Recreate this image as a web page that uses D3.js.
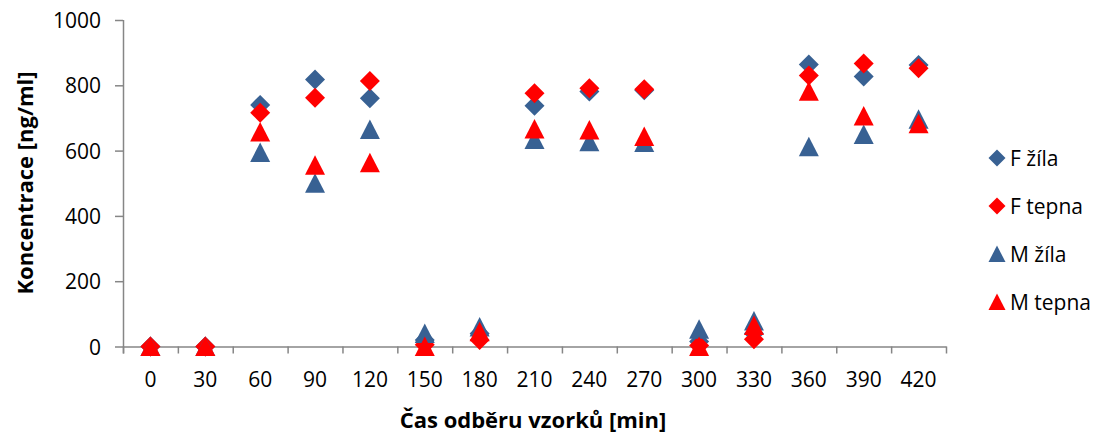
<!DOCTYPE html>
<html>
<head>
<meta charset="utf-8">
<script src="https://cdn.jsdelivr.net/npm/d3@7"></script>
<style>
  body { margin: 0; background: #fff; }
  text { font-family: "Open Sans", sans-serif; fill: #000; }
</style>
</head>
<body>
<div id="container"></div>
<script>
/* CONSTANTS AND GLOBALS */
const width = 1111;
const height = 436;
const margin = {top: 20, bottom: 90, left: 123, right: 165};

/* DATA */
const times = ["0","30","60","90","120","150","180","210","240","270","300","330","360","390","420"];
const fZila  = [0, 0, 740, 818, 760, 20, 40, 737, 781, 785, 15, 40, 864, 827, 862];
const fTepna = [0, 0, 716, 762, 813, 5, 20, 776, 791, 788, 3, 22, 830, 867, 852];
const mZila  = [0, 0, 594, 500, 665, 40, 60, 634, 627, 625, 53, 78, 612, 649, 696];
const mTepna = [0, 0, 657, 555, 563, 0, 45, 666, 663, 643, 0, 64, 782, 706, 682];
const yTicks = [0, 200, 400, 600, 800, 1000];

const blue = "#386193";
const red = "#ff0000";

// custom marker shapes (Excel style)
const diamond = {draw(ctx, size) {
  const r = Math.sqrt(size) / 2;
  ctx.moveTo(0, -r); ctx.lineTo(r, 0); ctx.lineTo(0, r); ctx.lineTo(-r, 0); ctx.closePath();
}};
const triangle = {draw(ctx, size) {
  const r = Math.sqrt(size) / 2;
  ctx.moveTo(0, -r); ctx.lineTo(r, r * 0.95); ctx.lineTo(-r, r * 0.95); ctx.closePath();
}};

const series = [
  {name: "F žíla", values: fZila, color: blue, shape: diamond},
  {name: "F tepna", values: fTepna, color: red, shape: diamond},
  {name: "M žíla", values: mZila, color: blue, shape: triangle},
  {name: "M tepna", values: mTepna, color: red, shape: triangle}
];

const svg = d3.select("#container")
  .append("svg")
  .attr("width", width)
  .attr("height", height);

/* SCALES */
const plotRight = 946;
const xScale = d3.scaleBand()
  .domain(times)
  .range([margin.left, plotRight])
  .padding(0);

const xIdx = d3.scaleLinear()
  .domain([0, times.length])
  .range([margin.left, plotRight]);

const yScale = d3.scaleLinear()
  .domain([0, 1000])
  .range([346.5, margin.top]);

/* AXES */
const yAxisGroup = svg.append("g")
  .attr("transform", `translate(${margin.left},0)`)
  .call(d3.axisLeft(yScale).tickValues(yTicks).tickFormat(d3.format("d"))
    .tickSize(8).tickPadding(14).tickSizeOuter(0));
yAxisGroup.select(".domain").attr("stroke", "#868686").attr("stroke-width", 1.5)
  .attr("d", `M0.5,${yScale(1000)}V${yScale(0) + 7}`);
yAxisGroup.selectAll(".tick line").attr("stroke", "#868686").attr("stroke-width", 1.5);
yAxisGroup.selectAll(".tick text").style("font-size", "21px").attr("dy", "0.36em");

// x tick marks at band edges
const xTickGroup = svg.append("g")
  .attr("transform", `translate(0,${yScale(0)})`)
  .call(d3.axisBottom(xIdx).tickValues(d3.range(times.length + 1))
    .tickSize(7).tickFormat("").tickSizeOuter(0));
xTickGroup.select(".domain").attr("stroke", "#868686").attr("stroke-width", 1.5);
xTickGroup.selectAll(".tick line").attr("stroke", "#868686").attr("stroke-width", 1.5);

// x category labels
const xLabelGroup = svg.append("g")
  .attr("transform", `translate(0,${yScale(0)})`)
  .call(d3.axisBottom(xScale).tickSize(0).tickPadding(26));
xLabelGroup.select(".domain").remove();
xLabelGroup.selectAll(".tick text").style("font-size", "21px");

// axis titles
svg.append("text")
  .attr("x", 533).attr("y", 428)
  .attr("text-anchor", "middle")
  .style("font-size", "22px").style("font-weight", "bold")
  .text("Čas odběru vzorků [min]");

svg.append("text")
  .attr("transform", `translate(33,183) rotate(-90)`)
  .attr("text-anchor", "middle")
  .style("font-size", "22px").style("font-weight", "bold")
  .text("Koncentrace [ng/ml]");

/* MARKERS */
series.forEach(s => {
  svg.append("g").selectAll("path")
    .data(s.values)
    .join("path")
    .attr("transform", (d, i) => `translate(${xScale(times[i]) + xScale.bandwidth() / 2},${yScale(d)})`)
    .attr("d", d3.symbol().type(s.shape).size(400))
    .attr("fill", s.color);
});

/* LEGEND */
const legend = svg.append("g").selectAll("g")
  .data(series)
  .join("g")
  .attr("transform", (d, i) => `translate(997,${158 + i * 48})`);
legend.append("path")
  .attr("d", d => d3.symbol().type(d.shape).size(289)())
  .attr("fill", d => d.color);
legend.append("text")
  .attr("x", 13).attr("dy", "0.36em")
  .style("font-size", "21px")
  .text(d => d.name);
</script>
</body>
</html>
